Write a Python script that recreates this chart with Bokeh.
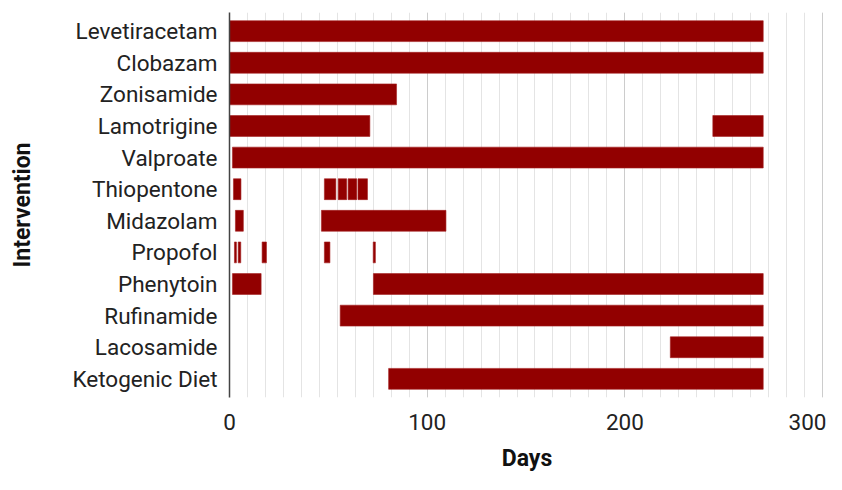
from bokeh.plotting import figure
from bokeh.models import FactorRange, FixedTicker, ColumnDataSource
from bokeh.embed import file_html
from bokeh.resources import INLINE

# ---- data ----
interventions = ["Levetiracetam", "Clobazam", "Zonisamide", "Lamotrigine", "Valproate",
                 "Thiopentone", "Midazolam", "Propofol", "Phenytoin", "Rufinamide",
                 "Lacosamide", "Ketogenic Diet"]

segment_drug = ["Levetiracetam", "Clobazam", "Zonisamide",
                "Lamotrigine", "Lamotrigine",
                "Valproate",
                "Thiopentone", "Thiopentone", "Thiopentone", "Thiopentone", "Thiopentone",
                "Midazolam", "Midazolam",
                "Propofol", "Propofol", "Propofol", "Propofol", "Propofol",
                "Phenytoin", "Phenytoin",
                "Rufinamide", "Lacosamide", "Ketogenic Diet"]
segment_start = [0, 0, 0,
                 0, 244.5,
                 1.5,
                 2, 48, 55, 60, 65,
                 3, 46.5,
                 2.5, 4.4, 16.5, 48, 72.7,
                 1.5, 72.8,
                 56, 223, 80.5]
segment_end = [270, 270, 84.5,
               71, 270,
               270,
               5.8, 53.8, 59.3, 64.4, 69.8,
               7, 109.5,
               3.5, 5.7, 18.7, 50.8, 73.8,
               16, 270,
               270, 270, 270]

major_ticks = [0, 100, 200, 300]
minor_ticks = [k * 100 / 11 for k in range(0, 34)]

x_title = "Days"
y_title = "Intervention"

source = ColumnDataSource(dict(y=segment_drug, left=segment_start, right=segment_end))

p = figure(width=826, height=474, output_backend="svg", toolbar_location=None,
           x_range=(0, 301), y_range=FactorRange(factors=interventions[::-1], range_padding=0.015),
           min_border_left=229, min_border_right=2, min_border_top=12, min_border_bottom=77)
p.outline_line_color = None
p.background_fill_color = "white"

p.hbar(y="y", left="left", right="right", height=0.66, source=source,
       fill_color="#920000", line_color="#a52020", line_width=0.6)

ticker = FixedTicker(ticks=major_ticks, minor_ticks=minor_ticks)
p.xaxis.ticker = ticker
p.xgrid.ticker = ticker
p.xgrid.grid_line_color = "#cccccc"
p.xgrid.grid_line_width = 1
p.xgrid.minor_grid_line_color = "#e4e4e4"
p.xgrid.minor_grid_line_width = 1
p.xgrid.level = "underlay"
p.ygrid.grid_line_color = None

for ax in (p.xaxis, p.yaxis):
    ax.major_tick_line_color = None
    ax.minor_tick_line_color = None
    ax.major_label_text_font = "Roboto"
    ax.major_label_text_font_size = "22.5px"
    ax.major_label_text_color = "#222222"
    ax.axis_label_text_font = "Roboto"
    ax.axis_label_text_font_style = "bold"
    ax.axis_label_text_font_size = "23px"
    ax.axis_label_text_color = "#111111"

p.xaxis.axis_line_color = None
p.xaxis.major_label_standoff = 10
p.xaxis.axis_label = x_title
p.xaxis.axis_label_standoff = 12

p.yaxis.axis_line_color = "#444444"
p.yaxis.axis_line_width = 1.5
p.yaxis.major_label_standoff = 6
p.yaxis.axis_label = y_title
p.yaxis.axis_label_standoff = 33

open("out.html", "w").write(file_html(p, INLINE))
